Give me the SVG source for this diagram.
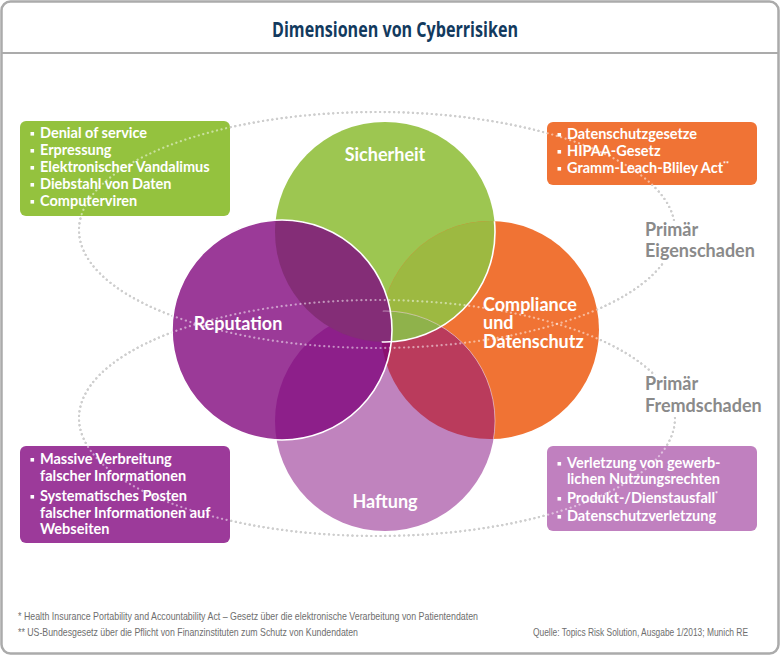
<svg xmlns="http://www.w3.org/2000/svg" width="780" height="655" viewBox="0 0 780 655">
<style>
.frame{fill:#fff;stroke:#ababab;stroke-width:2.5}
.sep{stroke:#ababab;stroke-width:2}
.title{font-family:"Open Sans","Liberation Sans",sans-serif;font-weight:700;font-size:22px;fill:#123a5e}
.dot{fill:none;stroke:#9c9c9c;stroke-width:2.2;stroke-dasharray:0.1 4.6;stroke-linecap:round}
.dotw{fill:none;stroke:#fff;stroke-opacity:.5;stroke-width:2.2;stroke-dasharray:0.1 4.6;stroke-linecap:round}
.lbl{font-family:Lato,"Open Sans",sans-serif;font-weight:700;font-size:18px;fill:#fff}
.bt{font-family:Lato,"Open Sans",sans-serif;font-weight:700;font-size:14.5px;fill:#fff}
.sup{font-size:7px}
.bul{fill:#fff}
.side{font-family:Lato,"Open Sans",sans-serif;font-weight:700;font-size:18px;fill:#8a8a8a}
.fn{font-family:"Liberation Sans",sans-serif;font-size:11px;fill:#6e6e6e}
</style>
<defs>
<clipPath id="cG"><circle cx="385" cy="232" r="110"/></clipPath>
<clipPath id="cR"><circle cx="282" cy="330" r="110"/></clipPath>
<clipPath id="cO"><circle cx="490" cy="330" r="109"/></clipPath>
<clipPath id="cH"><circle cx="385" cy="421" r="110"/></clipPath>
</defs>
<rect class="frame" x="1.5" y="1.5" width="777" height="652" rx="9"/>
<line class="sep" x1="1" y1="53" x2="779" y2="53"/>
<text class="title" x="395" y="37" text-anchor="middle" textLength="246" lengthAdjust="spacingAndGlyphs">Dimensionen von Cyberrisiken</text>

<g id="connectors">
<ellipse class="dot" cx="377" cy="230" rx="298" ry="118"/>
<ellipse class="dot" cx="377" cy="418" rx="298" ry="118"/>
</g>

<g id="circles">
<g id="sicherheit"><circle cx="385" cy="232" r="110" fill="#9dc651"/></g>
<g id="compliance"><circle cx="490" cy="330" r="109" fill="#f07334"/></g>
<g id="haftung"><circle cx="385" cy="421" r="110" fill="#c083be"/></g>
<g id="reputation"><circle cx="282" cy="330" r="110" fill="#9b3a98"/></g>
<g id="overlaps">
<g clip-path="url(#cO)"><circle cx="385" cy="232" r="110" fill="#9db941"/></g>
<g clip-path="url(#cH)"><circle cx="490" cy="330" r="109" fill="#ba3b5c"/></g>
<g clip-path="url(#cH)"><circle cx="282" cy="330" r="110" fill="#8d1f8a"/></g>
<g clip-path="url(#cH)"><g clip-path="url(#cO)"><circle cx="385" cy="232" r="110" fill="#8fb24b"/></g></g>
<g clip-path="url(#cH)"><g clip-path="url(#cO)"><circle cx="282" cy="330" r="110" fill="#8c1070"/></g></g>
<g clip-path="url(#cR)"><circle cx="385" cy="232" r="110" fill="#842d77"/></g>
</g>
<g clip-path="url(#cO)"><circle cx="385" cy="421" r="110" fill="none" stroke="#fff" stroke-opacity=".45" stroke-width="1"/></g>
<g clip-path="url(#cO)"><circle cx="385" cy="232" r="110" fill="none" stroke="#fff" stroke-width="1.6"/></g>
<circle cx="282" cy="330" r="110" fill="none" stroke="#fff" stroke-width="1.6"/>
<text class="lbl" x="385" y="161" text-anchor="middle">Sicherheit</text>
<text class="lbl" x="238" y="330" text-anchor="middle">Reputation</text>
<text class="lbl" x="483" y="311">Compliance</text>
<text class="lbl" x="483" y="329">und</text>
<text class="lbl" x="483" y="348">Datenschutz</text>
<text class="lbl" x="385" y="508" text-anchor="middle">Haftung</text>
</g>

<g id="box-green">
<rect x="20" y="121" width="210" height="95" rx="6" fill="#94c23e"/>
<rect class="bul" x="30.5" y="132" width="3.6" height="3.6"/>
<rect class="bul" x="30.5" y="149" width="3.6" height="3.6"/>
<rect class="bul" x="30.5" y="166" width="3.6" height="3.6"/>
<rect class="bul" x="30.5" y="183" width="3.6" height="3.6"/>
<rect class="bul" x="30.5" y="200" width="3.6" height="3.6"/>
<text class="bt" x="40" y="138">Denial of service</text>
<text class="bt" x="40" y="155">Erpressung</text>
<text class="bt" x="40" y="172">Elektronischer Vandalimus</text>
<text class="bt" x="40" y="189">Diebstahl von Daten</text>
<text class="bt" x="40" y="206">Computerviren</text>
</g>

<g id="box-orange">
<rect x="547" y="122" width="210" height="63" rx="6" fill="#f07335"/>
<rect class="bul" x="557.5" y="133" width="3.6" height="3.6"/>
<rect class="bul" x="557.5" y="150" width="3.6" height="3.6"/>
<rect class="bul" x="557.5" y="167" width="3.6" height="3.6"/>
<text class="bt" x="567" y="139">Datenschutzgesetze</text>
<text class="bt" x="567" y="156">HIPAA-Gesetz</text>
<text class="bt" x="567" y="173">Gramm-Leach-Bliley Act<tspan class="sup" dy="-6">**</tspan></text>
</g>

<g id="box-purple">
<rect x="20" y="446" width="210" height="97" rx="6" fill="#9c3a9a"/>
<rect class="bul" x="30.5" y="458" width="3.6" height="3.6"/>
<rect class="bul" x="30.5" y="495" width="3.6" height="3.6"/>
<text class="bt" x="40" y="464">Massive Verbreitung</text>
<text class="bt" x="40" y="481">falscher Informationen</text>
<text class="bt" x="40" y="501">Systematisches Posten</text>
<text class="bt" x="40" y="518">falscher Informationen auf</text>
<text class="bt" x="40" y="534">Webseiten</text>
</g>

<g id="box-lilac">
<rect x="547" y="446" width="210" height="85" rx="6" fill="#c080bf"/>
<rect class="bul" x="557.5" y="462" width="3.6" height="3.6"/>
<rect class="bul" x="557.5" y="497" width="3.6" height="3.6"/>
<rect class="bul" x="557.5" y="515" width="3.6" height="3.6"/>
<text class="bt" x="567" y="468">Verletzung von gewerb-</text>
<text class="bt" x="567" y="484">lichen Nutzungsrechten</text>
<text class="bt" x="567" y="503">Produkt-/Dienstausfall<tspan class="sup" dy="-6">*</tspan></text>
<text class="bt" x="567" y="521">Datenschutzverletzung</text>
</g>

<g id="connectors-overlay">
<ellipse class="dotw" cx="377" cy="230" rx="298" ry="118"/>
<ellipse class="dotw" cx="377" cy="418" rx="298" ry="118"/>
</g>

<g id="label-eigen">
<rect x="640" y="221" width="122" height="41" fill="#fff"/>
<text class="side" x="645" y="236">Primär</text>
<text class="side" x="645" y="257">Eigenschaden</text>
</g>
<g id="label-fremd">
<rect x="640" y="375" width="124" height="42" fill="#fff"/>
<text class="side" x="645" y="390">Primär</text>
<text class="side" x="645" y="412">Fremdschaden</text>
</g>

<g id="footnotes">
<text class="fn" x="18" y="620" textLength="460" lengthAdjust="spacingAndGlyphs">* Health Insurance Portability and Accountability Act – Gesetz über die elektronische Verarbeitung von Patientendaten</text>
<text class="fn" x="18" y="636" textLength="340" lengthAdjust="spacingAndGlyphs">** US-Bundesgesetz über die Pflicht von Finanzinstituten zum Schutz von Kundendaten</text>
<text class="fn" x="748" y="636" text-anchor="end" textLength="215" lengthAdjust="spacingAndGlyphs">Quelle: Topics Risk Solution, Ausgabe 1/2013; Munich RE</text>
</g>
</svg>
